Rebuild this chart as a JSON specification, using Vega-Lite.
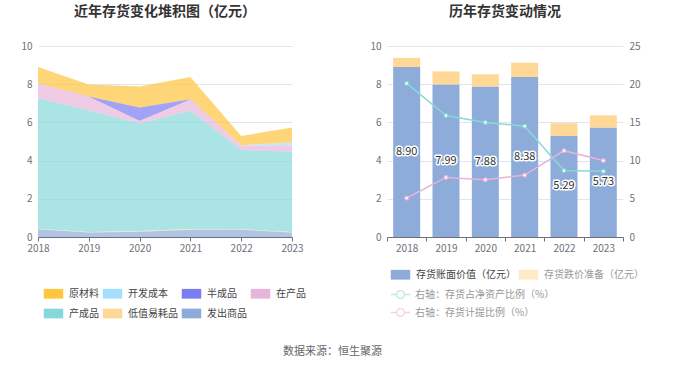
{
  "$schema": "https://vega.github.io/schema/vega-lite/v6.json",
  "background": "white",
  "padding": {"left": 20, "top": 5, "right": 5, "bottom": 5},
  "config": {
    "font": "Noto Sans CJK SC",
    "view": {"stroke": null},
    "axis": {"labelFont": "Noto Sans CJK SC", "labelColor": "#6E7079", "labelFontSize": 10, "gridColor": "#E0E6F1", "domainColor": "#6E7079", "tickColor": "#6E7079"},
    "legend": {"labelFont": "Noto Sans CJK SC", "labelFontSize": 10, "labelColor": "#444", "padding": 0},
    "title": {"font": "Noto Sans CJK SC", "fontSize": 14, "fontWeight": "bold", "color": "#333", "anchor": "middle"}
  },
  "title": {"text": "数据来源：恒生聚源", "orient": "bottom", "anchor": "middle", "fontSize": 11, "fontWeight": "normal", "color": "#666", "offset": 27},
  "datasets": {
    "seriesOrder": [
      {"type": "发出商品", "k": 1},
      {"type": "低值易耗品", "k": 2},
      {"type": "产成品", "k": 3},
      {"type": "在产品", "k": 4},
      {"type": "半成品", "k": 5},
      {"type": "开发成本", "k": 6},
      {"type": "原材料", "k": 7}
    ],
    "area": [
      {"year": "2018", "type": "原材料", "value": 0.86},
      {"year": "2018", "type": "开发成本", "value": 0},
      {"year": "2018", "type": "半成品", "value": 0},
      {"year": "2018", "type": "在产品", "value": 0.78},
      {"year": "2018", "type": "产成品", "value": 6.83},
      {"year": "2018", "type": "低值易耗品", "value": 0.03},
      {"year": "2018", "type": "发出商品", "value": 0.40},
      {"year": "2019", "type": "原材料", "value": 0.64},
      {"year": "2019", "type": "开发成本", "value": 0},
      {"year": "2019", "type": "半成品", "value": 0.01},
      {"year": "2019", "type": "在产品", "value": 0.70},
      {"year": "2019", "type": "产成品", "value": 6.38},
      {"year": "2019", "type": "低值易耗品", "value": 0.02},
      {"year": "2019", "type": "发出商品", "value": 0.24},
      {"year": "2020", "type": "原材料", "value": 1.10},
      {"year": "2020", "type": "开发成本", "value": 0},
      {"year": "2020", "type": "半成品", "value": 0.71},
      {"year": "2020", "type": "在产品", "value": 0.13},
      {"year": "2020", "type": "产成品", "value": 5.62},
      {"year": "2020", "type": "低值易耗品", "value": 0.04},
      {"year": "2020", "type": "发出商品", "value": 0.28},
      {"year": "2021", "type": "原材料", "value": 1.17},
      {"year": "2021", "type": "开发成本", "value": 0},
      {"year": "2021", "type": "半成品", "value": 0.01},
      {"year": "2021", "type": "在产品", "value": 0.59},
      {"year": "2021", "type": "产成品", "value": 6.19},
      {"year": "2021", "type": "低值易耗品", "value": 0.04},
      {"year": "2021", "type": "发出商品", "value": 0.38},
      {"year": "2022", "type": "原材料", "value": 0.49},
      {"year": "2022", "type": "开发成本", "value": 0.01},
      {"year": "2022", "type": "半成品", "value": 0},
      {"year": "2022", "type": "在产品", "value": 0.24},
      {"year": "2022", "type": "产成品", "value": 4.14},
      {"year": "2022", "type": "低值易耗品", "value": 0.03},
      {"year": "2022", "type": "发出商品", "value": 0.38},
      {"year": "2023", "type": "原材料", "value": 0.78},
      {"year": "2023", "type": "开发成本", "value": 0.14},
      {"year": "2023", "type": "半成品", "value": 0},
      {"year": "2023", "type": "在产品", "value": 0.35},
      {"year": "2023", "type": "产成品", "value": 4.20},
      {"year": "2023", "type": "低值易耗品", "value": 0.02},
      {"year": "2023", "type": "发出商品", "value": 0.24}
    ],
    "bars": [
      {"year": "2018", "type": "存货账面价值（亿元）", "value": 8.90},
      {"year": "2018", "type": "存货跌价准备（亿元）", "value": 0.48},
      {"year": "2019", "type": "存货账面价值（亿元）", "value": 7.99},
      {"year": "2019", "type": "存货跌价准备（亿元）", "value": 0.68},
      {"year": "2020", "type": "存货账面价值（亿元）", "value": 7.88},
      {"year": "2020", "type": "存货跌价准备（亿元）", "value": 0.64},
      {"year": "2021", "type": "存货账面价值（亿元）", "value": 8.38},
      {"year": "2021", "type": "存货跌价准备（亿元）", "value": 0.74},
      {"year": "2022", "type": "存货账面价值（亿元）", "value": 5.29},
      {"year": "2022", "type": "存货跌价准备（亿元）", "value": 0.67},
      {"year": "2023", "type": "存货账面价值（亿元）", "value": 5.73},
      {"year": "2023", "type": "存货跌价准备（亿元）", "value": 0.64}
    ],
    "lines": [
      {"year": "2018", "type": "右轴：存货占净资产比例（%）", "pct": 20.1},
      {"year": "2019", "type": "右轴：存货占净资产比例（%）", "pct": 15.9},
      {"year": "2020", "type": "右轴：存货占净资产比例（%）", "pct": 15.0},
      {"year": "2021", "type": "右轴：存货占净资产比例（%）", "pct": 14.5},
      {"year": "2022", "type": "右轴：存货占净资产比例（%）", "pct": 8.7},
      {"year": "2023", "type": "右轴：存货占净资产比例（%）", "pct": 8.6},
      {"year": "2018", "type": "右轴：存货计提比例（%）", "pct": 5.1},
      {"year": "2019", "type": "右轴：存货计提比例（%）", "pct": 7.8},
      {"year": "2020", "type": "右轴：存货计提比例（%）", "pct": 7.5},
      {"year": "2021", "type": "右轴：存货计提比例（%）", "pct": 8.1},
      {"year": "2022", "type": "右轴：存货计提比例（%）", "pct": 11.3},
      {"year": "2023", "type": "右轴：存货计提比例（%）", "pct": 10.0}
    ]
  },
  "spacing": 63,
  "resolve": {"scale": {"color": "independent", "stroke": "independent"}, "legend": {"color": "independent", "stroke": "independent"}},
  "hconcat": [
    {
      "width": 254,
      "height": 191,
      "title": {"text": "近年存货变化堆积图（亿元）", "offset": 22},
      "data": {"name": "area"},
      "transform": [{"lookup": "type", "from": {"data": {"name": "seriesOrder"}, "key": "type", "fields": ["k"]}}],
      "mark": {"type": "area", "opacity": 0.7},
      "encoding": {
        "x": {"field": "year", "type": "ordinal", "scale": {"type": "point", "padding": 0},
              "axis": {"title": null, "labelAngle": 0, "tickSize": 4, "labelPadding": 2, "grid": false}},
        "y": {"field": "value", "type": "quantitative", "stack": "zero", "scale": {"domain": [0, 10]},
              "axis": {"title": null, "values": [0, 2, 4, 6, 8, 10], "domain": false, "ticks": false, "grid": true, "labelPadding": 6}},
        "order": {"field": "k", "type": "quantitative", "sort": "ascending"},
        "color": {"field": "type", "type": "nominal",
                  "sort": ["原材料", "开发成本", "半成品", "在产品", "产成品", "低值易耗品", "发出商品"],
                  "scale": {"domain": ["原材料", "开发成本", "半成品", "在产品", "产成品", "低值易耗品", "发出商品"],
                            "range": ["#ffc53d", "#a5e0fa", "#7b7bf2", "#e8b5da", "#86d8da", "#ffd897", "#8eacda"]},
                  "legend": {"title": null, "orient": "none", "legendX": 5, "legendY": 237, "direction": "horizontal", "columns": 4, "gridAlign": "each",
                             "columnPadding": 3, "rowPadding": 4, "symbolType": "M-1,-0.5L1,-0.5L1,0.5L-1,0.5Z", "symbolSize": 380,
                             "symbolOpacity": 1, "labelOffset": 5}}
      }
    },
    {
      "width": 236,
      "height": 191,
      "title": {"text": "历年存货变动情况", "offset": 22},
      "layer": [
        {
          "data": {"name": "bars"},
          "mark": {"type": "bar", "size": 27},
          "encoding": {
            "x": {"field": "year", "type": "ordinal", "scale": {"type": "band", "paddingInner": 0, "paddingOuter": 0},
                  "axis": {"title": null, "labelAngle": 0, "tickSize": 4, "tickBand": "extent", "labelPadding": 2}},
            "y": {"field": "value", "type": "quantitative", "stack": "zero", "scale": {"domain": [0, 10]},
                  "axis": {"title": null, "orient": "left", "values": [0, 2, 4, 6, 8, 10], "domain": false, "ticks": false, "grid": true, "labelPadding": 6}},
            "color": {"field": "type", "type": "nominal",
                      "scale": {"domain": ["存货账面价值（亿元）", "存货跌价准备（亿元）"], "range": ["#8eacda", "#ffd897"]},
                      "legend": {"title": null, "orient": "none", "legendX": 3, "legendY": 218, "direction": "horizontal", "columns": 2,
                                 "columnPadding": 2, "symbolType": "M-1,-0.5L1,-0.5L1,0.5L-1,0.5Z", "symbolSize": 380, "labelOffset": 5,
                                 "encode": {"labels": {"update": {"fill": {"signal": "datum.index === 0 ? '#444' : '#999'"}}},
                                            "symbols": {"update": {"fillOpacity": {"signal": "datum.index === 0 ? 1 : 0.55"}}}}}},
            "order": {"field": "type", "sort": "ascending"}
          }
        },
        {
          "data": {"name": "bars"},
          "transform": [{"filter": {"field": "type", "equal": "存货账面价值（亿元）"}}],
          "mark": {"type": "text", "fontSize": 11, "baseline": "middle", "stroke": "white", "strokeWidth": 3, "strokeJoin": "round", "fill": "white"},
          "encoding": {
            "x": {"field": "year", "type": "ordinal", "scale": {"type": "band", "paddingInner": 0, "paddingOuter": 0}},
            "y": {"field": "value", "type": "quantitative", "scale": {"domain": [0, 20]}, "axis": null},
            "text": {"field": "value", "type": "quantitative", "format": ".2f"}
          }
        },
        {
          "data": {"name": "bars"},
          "transform": [{"filter": {"field": "type", "equal": "存货账面价值（亿元）"}}],
          "mark": {"type": "text", "fontSize": 11, "baseline": "middle", "fill": "#333"},
          "encoding": {
            "x": {"field": "year", "type": "ordinal", "scale": {"type": "band", "paddingInner": 0, "paddingOuter": 0}},
            "y": {"field": "value", "type": "quantitative", "scale": {"domain": [0, 20]}, "axis": null},
            "text": {"field": "value", "type": "quantitative", "format": ".2f"}
          }
        },
        {
          "data": {"name": "lines"},
          "mark": {"type": "line", "strokeWidth": 1.5, "point": {"filled": false, "fill": "white", "size": 14, "strokeWidth": 1.3}},
          "encoding": {
            "x": {"field": "year", "type": "ordinal", "scale": {"type": "band", "paddingInner": 0, "paddingOuter": 0}},
            "y": {"field": "pct", "type": "quantitative", "scale": {"domain": [0, 25]},
                  "axis": {"title": null, "orient": "right", "values": [0, 5, 10, 15, 20, 25], "domain": false, "ticks": false, "grid": false, "labelPadding": 6}},
            "stroke": {"field": "type", "type": "nominal",
                       "scale": {"domain": ["右轴：存货占净资产比例（%）", "右轴：存货计提比例（%）"], "range": ["#86d9d4", "#e6b3da"]},
                       "legend": {"title": null, "orient": "none", "legendX": 3, "legendY": 238, "direction": "vertical", "rowPadding": 1,
                                  "symbolType": "M-1,0L-0.4,0M0.4,0L1,0M0.4,0A0.4,0.4,0,1,1,-0.4,0A0.4,0.4,0,1,1,0.4,0Z",
                                  "symbolSize": 380, "symbolFillColor": "white", "symbolStrokeWidth": 1.3, "symbolOpacity": 0.55,
                                  "labelOffset": 4, "labelColor": "#999"}}
          }
        }
      ],
      "resolve": {"scale": {"y": "independent"}}
    }
  ]
}
